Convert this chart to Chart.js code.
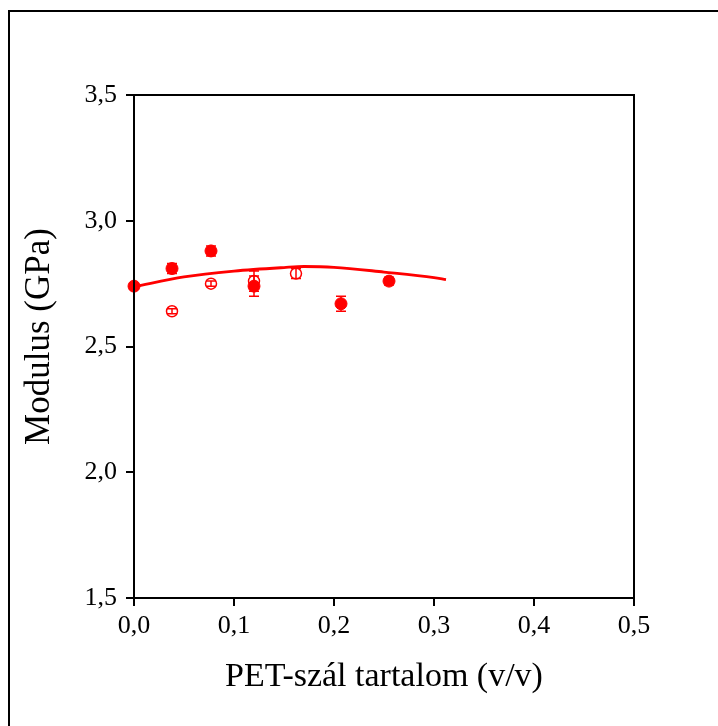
<!DOCTYPE html>
<html>
<head>
<meta charset="utf-8">
<script src="https://cdn.jsdelivr.net/npm/chart.js@4.4.1/dist/chart.umd.min.js"></script>
<style>
  html, body { margin: 0; padding: 0; background: #fff; overflow: hidden; }
  #wrap { position: relative; width: 718px; height: 726px; }
  #frame { position: absolute; left: 8px; top: 10px; width: 800px; height: 800px;
           border-top: 2px solid #000; border-left: 2px solid #000; box-sizing: border-box; }
  canvas { position: absolute; left: 0; top: 0; }
</style>
</head>
<body>
<div id="wrap">
  <div id="frame"></div>
  <canvas id="c" width="718" height="726"></canvas>
</div>
<script>
// Filled symbols
const filledContent = [0, 0.038, 0.077, 0.12, 0.207, 0.255];
const filledModulus = [2.74, 2.81, 2.88, 2.74, 2.67, 2.76];
const filledErr     = [0.01, 0.02, 0.02, 0.04, 0.03, 0.015];

// Open symbols
const openContent = [0.038, 0.077, 0.12, 0.162];
const openModulus = [2.64, 2.75, 2.76, 2.79];
const openErr     = [0.01, 0.01, 0.04, 0.02];

// Fitted trend line
const fitContent = [0, 0.05, 0.1, 0.15, 0.17, 0.2, 0.25, 0.3, 0.312];
const fitModulus = [2.737, 2.777, 2.800, 2.814, 2.818, 2.815, 2.796, 2.774, 2.766];

// Axis ticks
const xTicks = [0, 0.1, 0.2, 0.3, 0.4, 0.5];
const yTicks = [1.5, 2.0, 2.5, 3.0, 3.5];

const xTitle = 'PET-szál tartalom (v/v)';
const yTitle = 'Modulus (GPa)';

const RED = '#ff0000';
const SERIF = "'Liberation Serif', 'Times New Roman', serif";

const toPts = (xs, ys) => xs.map((x, i) => ({ x: x, y: ys[i] }));
const comma = v => Number(v).toFixed(1).replace('.', ',');

// Vertical error bars with caps, drawn from each dataset's errors array
const errorBars = {
  id: 'errorBars',
  afterDatasetsDraw(chart) {
    const ctx = chart.ctx;
    const ys = chart.scales.y;
    chart.data.datasets.forEach((ds, di) => {
      if (!ds.errors) return;
      const meta = chart.getDatasetMeta(di);
      ctx.save();
      ctx.strokeStyle = RED;
      ctx.lineWidth = 1.5;
      meta.data.forEach((pt, i) => {
        const e = ds.errors[i];
        const v = ds.data[i].y;
        const yTop = ys.getPixelForValue(v + e);
        const yBot = ys.getPixelForValue(v - e);
        const x = pt.x;
        ctx.beginPath();
        ctx.moveTo(x, yTop); ctx.lineTo(x, yBot);
        ctx.moveTo(x - 5, yTop); ctx.lineTo(x + 5, yTop);
        ctx.moveTo(x - 5, yBot); ctx.lineTo(x + 5, yBot);
        ctx.stroke();
      });
      ctx.restore();
    });
  }
};

// Box around the plotting area and the two axis titles
const plotBox = {
  id: 'plotBox',
  afterDraw(chart) {
    const a = chart.chartArea;
    const ctx = chart.ctx;
    ctx.save();
    ctx.strokeStyle = '#000';
    ctx.lineWidth = 2;
    ctx.strokeRect(a.left, a.top, a.right - a.left, a.bottom - a.top);

    ctx.fillStyle = '#000';
    ctx.textAlign = 'center';
    ctx.textBaseline = 'middle';
    ctx.font = '34px ' + SERIF;
    ctx.fillText(xTitle, (a.left + a.right) / 2, a.bottom + 79);

    ctx.translate(40, (a.top + a.bottom) / 2 - 10);
    ctx.rotate(-Math.PI / 2);
    ctx.font = '35px ' + SERIF;
    ctx.fillText(yTitle, 0, 0);
    ctx.restore();
  }
};

new Chart(document.getElementById('c'), {
  type: 'scatter',
  data: {
    datasets: [
      {
        label: 'fit',
        type: 'line',
        data: toPts(fitContent, fitModulus),
        borderColor: RED,
        borderWidth: 2.8,
        pointRadius: 0,
        fill: false,
        cubicInterpolationMode: 'monotone',
        order: 3
      },
      {
        label: 'open',
        data: toPts(openContent, openModulus),
        errors: openErr,
        pointStyle: 'circle',
        pointRadius: 5.5,
        borderWidth: 1.5,
        borderColor: RED,
        backgroundColor: '#ffffff',
        order: 2
      },
      {
        label: 'filled',
        data: toPts(filledContent, filledModulus),
        errors: filledErr,
        pointStyle: 'circle',
        pointRadius: 6,
        borderWidth: 1,
        borderColor: RED,
        backgroundColor: RED,
        order: 1
      }
    ]
  },
  options: {
    responsive: false,
    animation: false,
    devicePixelRatio: 1,
    clip: false,
    layout: { padding: { left: 0, top: 95, right: 84, bottom: 0 } },
    plugins: { legend: { display: false }, tooltip: { enabled: false } },
    scales: {
      x: {
        type: 'linear',
        min: 0, max: 0.5,
        afterBuildTicks(scale) { scale.ticks = xTicks.map(v => ({ value: v })); },
        afterFit(scale) { scale.height = 128; },
        grid: { drawOnChartArea: false, drawTicks: true, tickLength: 8, color: '#000', lineWidth: 2 },
        border: { display: false },
        ticks: { color: '#000', padding: 5, maxRotation: 0,
                 font: { family: SERIF, size: 26 }, callback: v => comma(v) },
        title: { display: false }
      },
      y: {
        type: 'linear',
        min: 1.5, max: 3.5,
        afterBuildTicks(scale) { scale.ticks = yTicks.map(v => ({ value: v })); },
        afterFit(scale) { scale.width = 134; },
        grid: { drawOnChartArea: false, drawTicks: true, tickLength: 8, color: '#000', lineWidth: 2 },
        border: { display: false },
        ticks: { color: '#000', padding: 9,
                 font: { family: SERIF, size: 26 }, callback: v => comma(v) },
        title: { display: false }
      }
    }
  },
  plugins: [errorBars, plotBox]
});
</script>
</body>
</html>
